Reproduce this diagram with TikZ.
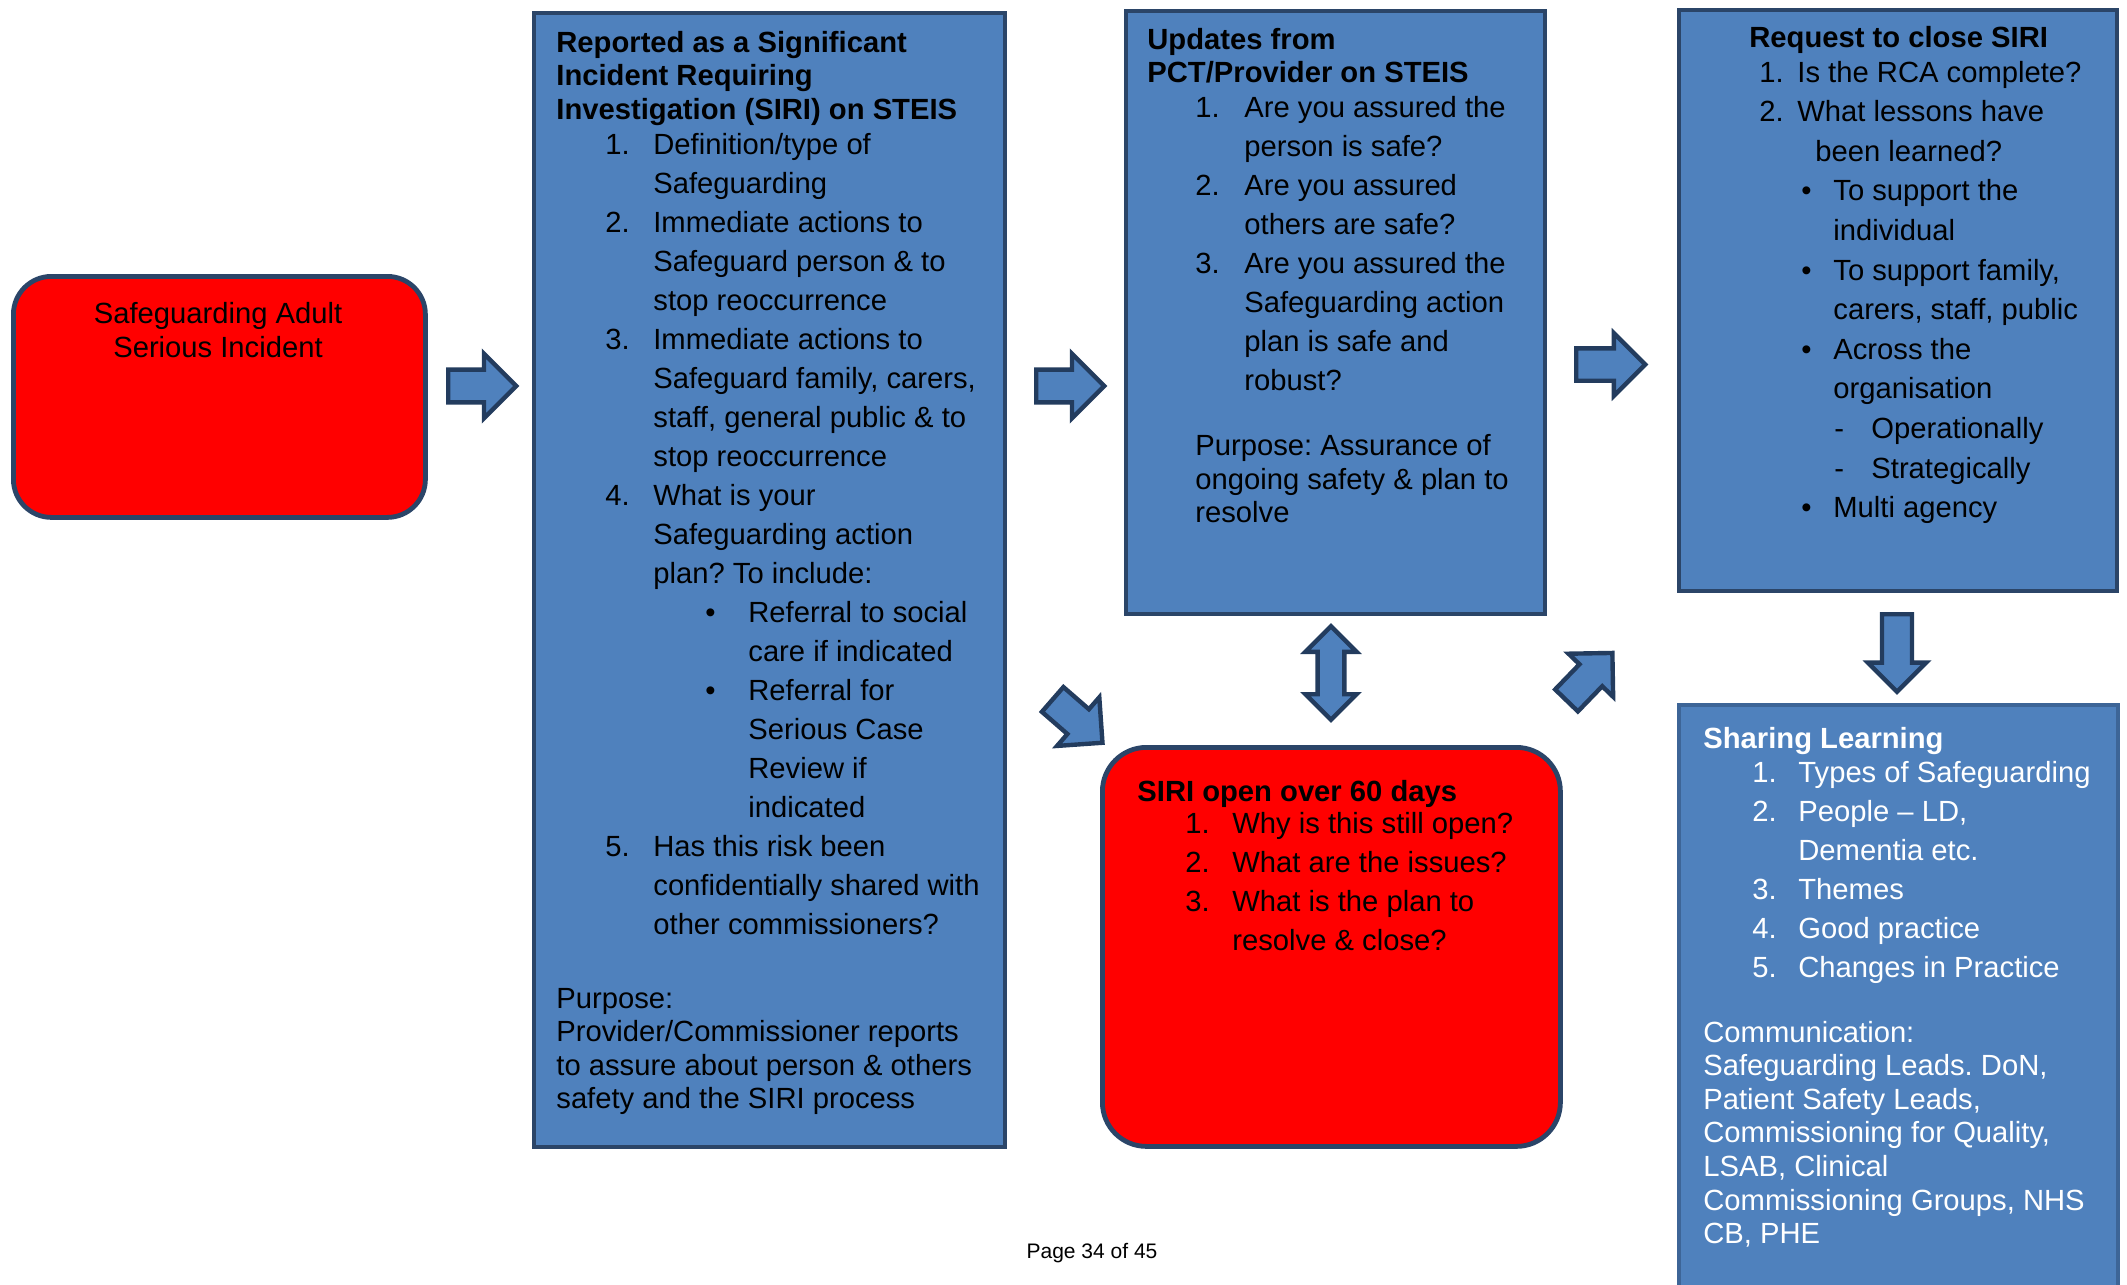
\documentclass[tikz,border=0pt]{standalone}
\usepackage{fontspec}
\setmainfont{Liberation Sans}
\usetikzlibrary{shapes.arrows}

\definecolor{boxblue}{HTML}{4F81BD}
\definecolor{boxline}{HTML}{2B4568}
\definecolor{arrowline}{HTML}{233C5E}
\definecolor{boxlinelight}{HTML}{3D6597}
\definecolor{alertred}{HTML}{FF0000}

\newcommand{\putat}[2]{\makebox[0pt][l]{\hspace*{#1}#2}}
\newcommand{\nxt}{\\[2.7pt]}

\begin{document}
\frenchspacing
\begin{tikzpicture}[x=0.5pt,y=-0.5pt,
  font=\fontsize{14.6}{16.8}\selectfont,
  bluebox/.style={rectangle, draw=boxline, line width=2.2pt, fill=boxblue, inner sep=0pt, anchor=north west},
  redbox/.style={rectangle, draw=boxline, line width=2.4pt, fill=alertred, inner sep=0pt, anchor=north west},
  boxtext/.style={inner sep=0pt, anchor=base west},
  blockarrow/.style={single arrow, draw=arrowline, fill=boxblue, line width=2.2pt, inner xsep=0pt, inner ysep=7.1pt, single arrow head extend=7.9pt, minimum height=34pt, anchor=tail},
]
\useasboundingbox (0,0) rectangle (2127,1285);
\clip (0,0) rectangle (2127,1285);

\node[redbox, rounded corners=19pt, minimum width=206pt, minimum height=120.5pt] (incident) at (11,274) {};
\node[bluebox, minimum width=235.5pt, minimum height=567pt] (report) at (532,11) {};
\node[bluebox, minimum width=209.5pt, minimum height=301.5pt] (updates) at (1124,9) {};
\node[bluebox, minimum width=219pt, minimum height=290.5pt] (request) at (1677,8) {};
\node[bluebox, draw=boxlinelight, minimum width=219.5pt, minimum height=310pt] (sharing) at (1677,703) {};
\node[redbox, rounded corners=22pt, minimum width=229pt, minimum height=199.5pt] (open) at (1100,745) {};

\node[inner sep=0pt, anchor=base] (incidenttext) at (218,323) {\begin{minipage}[t]{190pt}\centering
Safeguarding Adult\\[0.2pt]
Serious Incident
\end{minipage}};

\node[boxtext] (reporttext) at (556,52) {\begin{minipage}[t]{220pt}
\textbf{Reported as a Significant}\\
\textbf{Incident Requiring}\\
\textbf{Investigation (SIRI) on STEIS}\\[0.7pt]
\putat{24.5pt}{1.}\putat{48.5pt}{Definition/type of}\nxt
\putat{48.5pt}{Safeguarding}\nxt
\putat{24.5pt}{2.}\putat{48.5pt}{Immediate actions to}\nxt
\putat{48.5pt}{Safeguard person \& to}\nxt
\putat{48.5pt}{stop reoccurrence}\nxt
\putat{24.5pt}{3.}\putat{48.5pt}{Immediate actions to}\nxt
\putat{48.5pt}{Safeguard family, carers,}\nxt
\putat{48.5pt}{staff, general public \& to}\nxt
\putat{48.5pt}{stop reoccurrence}\nxt
\putat{24.5pt}{4.}\putat{48.5pt}{What is your}\nxt
\putat{48.5pt}{Safeguarding action}\nxt
\putat{48.5pt}{plan? To include:}\nxt
\putat{74.5pt}{•}\putat{96pt}{Referral to social}\nxt
\putat{96pt}{care if indicated}\nxt
\putat{74.5pt}{•}\putat{96pt}{Referral for}\nxt
\putat{96pt}{Serious Case}\nxt
\putat{96pt}{Review if}\nxt
\putat{96pt}{indicated}\nxt
\putat{24.5pt}{5.}\putat{48.5pt}{Has this risk been}\nxt
\putat{48.5pt}{confidentially shared with}\nxt
\putat{48.5pt}{other commissioners?}\\[20.2pt]
Purpose:\\
Provider/Commissioner reports\\
to assure about person \& others\\
safety and the SIRI process
\end{minipage}};

\node[boxtext] (updatestext) at (1147,49) {\begin{minipage}[t]{200pt}
\textbf{Updates from}\\
\textbf{PCT/Provider on STEIS}\\[0.7pt]
\putat{24pt}{1.}\putat{48.5pt}{Are you assured the}\nxt
\putat{48.5pt}{person is safe?}\nxt
\putat{24pt}{2.}\putat{48.5pt}{Are you assured}\nxt
\putat{48.5pt}{others are safe?}\nxt
\putat{24pt}{3.}\putat{48.5pt}{Are you assured the}\nxt
\putat{48.5pt}{Safeguarding action}\nxt
\putat{48.5pt}{plan is safe and}\nxt
\putat{48.5pt}{robust?}\\[15.7pt]
\putat{24pt}{Purpose: Assurance of}\\
\putat{24pt}{ongoing safety \& plan to}\\
\putat{24pt}{resolve}
\end{minipage}};

\node[boxtext] (requesttext) at (1749,47) {\begin{minipage}[t]{200pt}
\textbf{Request to close SIRI}\\[0.7pt]
\putat{5pt}{1.}\putat{24pt}{Is the RCA complete?}\\[3pt]
\putat{5pt}{2.}\putat{24pt}{What lessons have}\\[3pt]
\putat{33pt}{been learned?}\\[3pt]
\putat{26pt}{•}\putat{42pt}{To support the}\\[3pt]
\putat{42pt}{individual}\\[3pt]
\putat{26pt}{•}\putat{42pt}{To support family,}\\[3pt]
\putat{42pt}{carers, staff, public}\\[3pt]
\putat{26pt}{•}\putat{42pt}{Across the}\\[3pt]
\putat{42pt}{organisation}\\[3pt]
\putat{42.5pt}{-}\putat{61pt}{Operationally}\\[3pt]
\putat{42.5pt}{-}\putat{61pt}{Strategically}\\[3pt]
\putat{26pt}{•}\putat{42pt}{Multi agency}
\end{minipage}};

\node[boxtext, text=white] (sharingtext) at (1703,748) {\begin{minipage}[t]{205pt}
\textbf{Sharing Learning}\\[0.2pt]
\putat{24.5pt}{1.}\putat{47.5pt}{Types of Safeguarding}\nxt
\putat{24.5pt}{2.}\putat{47.5pt}{People – LD,}\nxt
\putat{47.5pt}{Dementia etc.}\nxt
\putat{24.5pt}{3.}\putat{47.5pt}{Themes}\nxt
\putat{24.5pt}{4.}\putat{47.5pt}{Good practice}\nxt
\putat{24.5pt}{5.}\putat{47.5pt}{Changes in Practice}\\[15.7pt]
Communication:\\
Safeguarding Leads. DoN,\\
Patient Safety Leads,\\
Commissioning for Quality,\\
LSAB, Clinical\\
Commissioning Groups, NHS\\
CB, PHE
\end{minipage}};

\node[boxtext] (opentext) at (1137,801) {\begin{minipage}[t]{215pt}
\textbf{SIRI open over 60 days}\\[-0.8pt]
\putat{24pt}{1.}\putat{47.5pt}{Why is this still open?}\nxt
\putat{24pt}{2.}\putat{47.5pt}{What are the issues?}\nxt
\putat{24pt}{3.}\putat{47.5pt}{What is the plan to}\nxt
\putat{47.5pt}{resolve \& close?}
\end{minipage}};

\node[blockarrow] (toreport) at (446,386) {};
\node[blockarrow] (toupdates) at (1034,386) {};
\node[blockarrow, minimum height=34.5pt, inner ysep=7pt, single arrow head extend=7.6pt] (torequest) at (1574,364.5) {};
\node[blockarrow, rotate=-90, minimum height=38.8pt, inner ysep=6.4pt, single arrow head extend=7.1pt] (tosharing) at (1897,612) {};
\node[blockarrow, rotate=-41, minimum height=33pt] (toopen) at (1051,698) {};
\node[blockarrow, rotate=46, minimum height=33pt, inner ysep=6.8pt, single arrow head extend=7.6pt] (fromopen) at (1565,702) {};
\node[double arrow, draw=arrowline, fill=boxblue, line width=2.2pt, rotate=90, inner xsep=0pt, inner ysep=5.6pt, double arrow head extend=6.1pt, minimum height=46.8pt] (updown) at (1331,673) {};

\node[anchor=base, font=\fontsize{10.5}{12}\selectfont] (pagenum) at (1092,1258) {Page 34 of 45};
\end{tikzpicture}
\end{document}
